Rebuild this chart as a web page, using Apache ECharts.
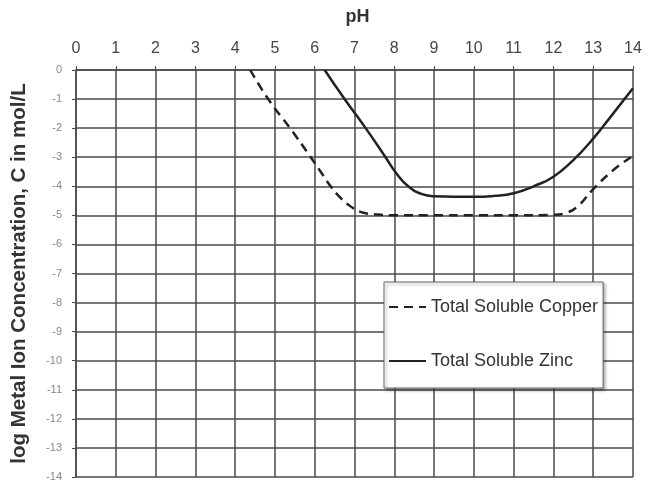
<!DOCTYPE html>
<html>
<head>
<meta charset="utf-8">
<script src="https://cdn.jsdelivr.net/npm/echarts@6/dist/echarts.min.js"></script>
<style>
html,body{margin:0;padding:0;background:#fff;}
#chart{width:650px;height:483px;}
</style>
</head>
<body>
<div id="chart"></div>
<script>
const copperPH  = [4.38, 4.83, 5.38, 5.9, 6.15, 6.4, 6.65, 6.87, 7.2, 7.6, 8, 9, 10, 11, 12, 12.3, 12.6, 13, 13.5, 13.95];
const copperLog = [0, -1, -2, -3, -3.5, -4, -4.4, -4.66, -4.9, -4.97, -5, -5, -5, -5, -4.98, -4.92, -4.7, -4.1, -3.45, -3.0];
const zincPH    = [6.25, 6.75, 7.28, 7.78, 8.05, 8.35, 8.7, 9, 10, 10.5, 11, 11.5, 12, 12.5, 13, 13.5, 14];
const zincLog   = [0, -1, -2, -3, -3.55, -4.0, -4.27, -4.34, -4.36, -4.33, -4.24, -4.0, -3.67, -3.1, -2.36, -1.5, -0.63];
const seriesNames = ['Total Soluble Copper', 'Total Soluble Zinc'];
const xTitle = 'pH';
const yTitle = 'log Metal Ion Concentration, C in mol/L';

const pairs = (xs, ys) => xs.map((x, i) => [x, ys[i]]);
const font = 'Liberation Sans, Arial, sans-serif';
const gridColor = '#4a4a4a';

const chart = echarts.init(document.getElementById('chart'), null, {renderer: 'canvas'});
chart.setOption({
  backgroundColor: '#ffffff',
  animation: false,
  grid: {left: 76, right: 17, top: 70, bottom: 6},
  xAxis: {
    type: 'value', position: 'top', min: 0, max: 14, interval: 1,
    name: xTitle, nameLocation: 'middle', nameGap: 44,
    nameTextStyle: {fontFamily: font, fontSize: 18, fontWeight: 'bold', color: '#333', padding: [0, 0, 0, 6]},
    axisLine: {show: true, lineStyle: {color: gridColor, width: 1.5}},
    axisTick: {show: true, length: 4, lineStyle: {color: gridColor}},
    axisLabel: {fontFamily: font, fontSize: 16, color: '#444', margin: 13},
    splitLine: {show: true, lineStyle: {color: gridColor, width: 1.5}}
  },
  yAxis: {
    type: 'value', min: -14, max: 0, interval: 1,
    name: yTitle, nameLocation: 'middle', nameGap: 46,
    nameTextStyle: {fontFamily: font, fontSize: 20.5, fontWeight: 'bold', color: '#333'},
    axisLine: {show: true, lineStyle: {color: gridColor, width: 1.5}},
    axisTick: {show: true, length: 4, lineStyle: {color: gridColor}},
    axisLabel: {fontFamily: font, fontSize: 11, color: '#888', margin: 14},
    splitLine: {show: true, lineStyle: {color: gridColor, width: 1.5}}
  },
  legend: {
    orient: 'vertical', left: 384, top: 282,
    padding: [16, 5, 18, 4], itemGap: 36, itemWidth: 37, itemHeight: 14,
    backgroundColor: '#fff', borderColor: '#666', borderWidth: 1,
    shadowColor: 'rgba(0,0,0,0.35)', shadowBlur: 3, shadowOffsetX: 2, shadowOffsetY: 2,
    textStyle: {fontFamily: font, fontSize: 18, color: '#333'},
    itemStyle: {opacity: 0},
    data: seriesNames
  },
  series: [
    {
      name: seriesNames[0], type: 'line', data: pairs(copperPH, copperLog),
      smooth: 0.5, symbol: 'none',
      lineStyle: {color: '#222', width: 2.5, type: [9, 6]},
      itemStyle: {color: '#222'}
    },
    {
      name: seriesNames[1], type: 'line', data: pairs(zincPH, zincLog),
      smooth: 0.5, symbol: 'none',
      lineStyle: {color: '#222', width: 2.5},
      itemStyle: {color: '#222'}
    }
  ]
});
</script>
</body>
</html>
